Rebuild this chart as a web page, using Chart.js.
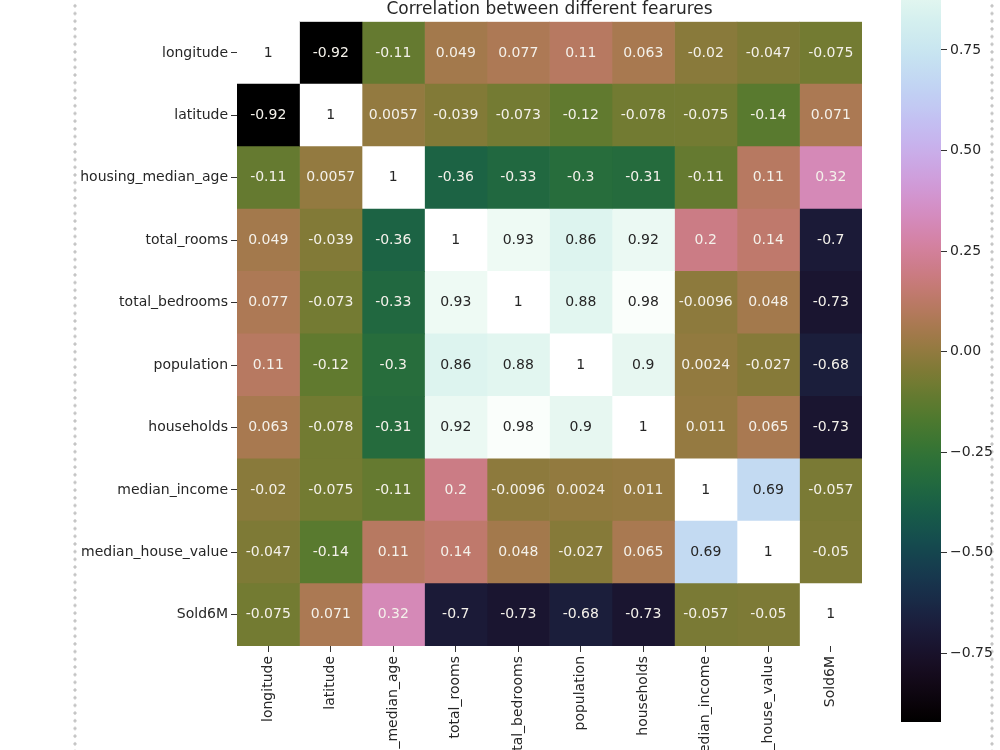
<!DOCTYPE html>
<html>
<head>
<meta charset="utf-8">
<script src="https://cdn.jsdelivr.net/npm/chart.js@4.4.1/dist/chart.umd.min.js"></script>
<style>
  html, body { margin: 0; padding: 0; background: #fff; }
  #wrap { position: relative; width: 1000px; height: 750px; overflow: hidden; }
  #heat { position: absolute; left: 0; top: 0; }
  #cbar { position: absolute; left: 860px; top: -62px; }
  .dots {
    position: absolute; top: 0; width: 4px; height: 750px;
    background: radial-gradient(circle, #c4c4c4 1.3px, rgba(255,255,255,0) 1.9px) 0 2px / 4px 7.7px repeat-y;
  }
</style>
</head>
<body>
<div id="wrap">
  <div class="dots" style="left:73px"></div>
  <div class="dots" style="left:990px"></div>
  <canvas id="heat" width="1000" height="750"></canvas>
  <canvas id="cbar" width="140" height="800"></canvas>
</div>
<script>
// feature names (rows top->bottom, columns left->right)
const features = ['longitude', 'latitude', 'housing_median_age', 'total_rooms', 'total_bedrooms',
  'population', 'households', 'median_income', 'median_house_value', 'Sold6M'];

// correlation rows
const longitude        = [1, -0.92, -0.11, 0.049, 0.077, 0.11, 0.063, -0.02, -0.047, -0.075];
const latitude         = [-0.92, 1, 0.0057, -0.039, -0.073, -0.12, -0.078, -0.075, -0.14, 0.071];
const housingMedianAge = [-0.11, 0.0057, 1, -0.36, -0.33, -0.3, -0.31, -0.11, 0.11, 0.32];
const totalRooms       = [0.049, -0.039, -0.36, 1, 0.93, 0.86, 0.92, 0.2, 0.14, -0.7];
const totalBedrooms    = [0.077, -0.073, -0.33, 0.93, 1, 0.88, 0.98, -0.0096, 0.048, -0.73];
const population       = [0.11, -0.12, -0.3, 0.86, 0.88, 1, 0.9, 0.0024, -0.027, -0.68];
const households       = [0.063, -0.078, -0.31, 0.92, 0.98, 0.9, 1, 0.011, 0.065, -0.73];
const medianIncome     = [-0.02, -0.075, -0.11, 0.2, -0.0096, 0.0024, 0.011, 1, 0.69, -0.057];
const medianHouseValue = [-0.047, -0.14, 0.11, 0.14, 0.048, -0.027, 0.065, 0.69, 1, -0.05];
const sold6M           = [-0.075, 0.071, 0.32, -0.7, -0.73, -0.68, -0.73, -0.057, -0.05, 1];
const corr = [longitude, latitude, housingMedianAge, totalRooms, totalBedrooms,
  population, households, medianIncome, medianHouseValue, sold6M];

// colorbar tick labels
const cbTicks = [-0.75, -0.5, -0.25, 0, 0.25, 0.5, 0.75];

const vmin = -0.921, vmax = 1;
const FONT = 'DejaVu Sans';
const TXT = '#262626';
const FS = 14;

// matplotlib 'cubehelix' colormap
function helix(x) {
  const phi = 2 * Math.PI * (0.5 / 3 - 1.5 * x);
  const a = x * (1 - x) / 2;
  const c = Math.cos(phi), s = Math.sin(phi);
  const clip = v => Math.max(0, Math.min(1, v));
  return [
    clip(x + a * (-0.14861 * c + 1.78277 * s)),
    clip(x + a * (-0.29227 * c - 0.90649 * s)),
    clip(x + a * (1.97294 * c))
  ];
}
const rgbStr = c => 'rgb(' + c.map(v => Math.round(v * 255)).join(',') + ')';
const norm = v => Math.max(0, Math.min(1, (v - vmin) / (vmax - vmin)));
function lum(c) {
  const l = c.map(v => v <= 0.03928 ? v / 12.92 : Math.pow((v + 0.055) / 1.055, 2.4));
  return 0.2126 * l[0] + 0.7152 * l[1] + 0.0722 * l[2];
}
const fmt = v => String(Number(v.toPrecision(2)));

// writes the value in each cell
const annotate = {
  id: 'annotate',
  afterDatasetsDraw(chart) {
    const c = chart.ctx;
    c.save();
    c.font = FS + 'px "' + FONT + '"';
    c.textAlign = 'center';
    c.textBaseline = 'middle';
    chart.data.datasets.forEach((ds, j) => {
      chart.getDatasetMeta(j).data.forEach((bar, i) => {
        const v = corr[i][j];
        const p = bar.getCenterPoint();
        c.fillStyle = lum(helix(norm(v))) > 0.408 ? TXT : '#f4f1ea';
        c.fillText(fmt(v), p.x, p.y);
      });
    });
    c.restore();
  }
};

new Chart(document.getElementById('heat'), {
  type: 'bar',
  data: {
    labels: features,
    datasets: features.map((f, j) => ({
      label: f,
      data: features.map(() => 1),
      backgroundColor: corr.map(row => rgbStr(helix(norm(row[j])))),
      borderWidth: 0,
      barPercentage: 1,
      categoryPercentage: 1
    }))
  },
  options: {
    indexAxis: 'y',
    responsive: false,
    animation: false,
    events: [],
    layout: { padding: { left: 0, right: 138, top: 0, bottom: 0 } },
    plugins: {
      legend: { display: false },
      tooltip: { enabled: false },
      title: {
        display: true,
        text: 'Correlation between different fearures',
        fullSize: false,
        color: TXT,
        font: { family: FONT, size: 17, weight: 'normal', lineHeight: 1.1 },
        padding: { top: 0, bottom: 3 }
      }
    },
    scales: {
      x: {
        type: 'linear',
        stacked: true,
        min: 0,
        max: features.length,
        afterBuildTicks: s => { s.ticks = features.map((f, i) => ({ value: i + 0.5 })); },
        afterFit: s => { s.height = 104; },
        ticks: {
          autoSkip: false,
          minRotation: 90,
          maxRotation: 90,
          padding: 4,
          color: TXT,
          font: { family: FONT, size: FS },
          callback: (v, i) => features[i]
        },
        grid: { drawOnChartArea: false, drawTicks: true, tickLength: 6, tickColor: '#333' },
        border: { display: false }
      },
      y: {
        stacked: true,
        afterFit: s => { s.width = 237; },
        ticks: {
          autoSkip: false,
          padding: 3,
          color: TXT,
          font: { family: FONT, size: FS }
        },
        grid: { offset: false, drawOnChartArea: false, drawTicks: true, tickLength: 6, tickColor: '#333' },
        border: { display: false }
      }
    }
  },
  plugins: [annotate]
});

// colorbar
new Chart(document.getElementById('cbar'), {
  type: 'bar',
  data: {
    labels: [''],
    datasets: [{
      data: [[vmin, vmax]],
      borderWidth: 0,
      barPercentage: 1,
      categoryPercentage: 1,
      backgroundColor: ctx => {
        const area = ctx.chart.chartArea;
        if (!area) return null;
        const g = ctx.chart.ctx.createLinearGradient(0, area.bottom, 0, area.top);
        for (let k = 0; k <= 64; k++) g.addColorStop(k / 64, rgbStr(helix(k / 64)));
        return g;
      }
    }]
  },
  options: {
    responsive: false,
    animation: false,
    events: [],
    layout: { padding: { left: 41, right: 0, top: 10, bottom: 16 } },
    plugins: { legend: { display: false }, tooltip: { enabled: false } },
    scales: {
      x: { display: false },
      y: {
        position: 'right',
        min: vmin,
        max: vmax,
        afterBuildTicks: s => { s.ticks = cbTicks.map(v => ({ value: v })); },
        afterFit: s => { s.width = 59; },
        ticks: {
          padding: 3,
          color: TXT,
          font: { family: FONT, size: FS },
          callback: v => v.toFixed(2).replace('-', '\u2212')
        },
        grid: { drawOnChartArea: false, drawTicks: true, tickLength: 6, tickColor: '#333' },
        border: { display: false }
      }
    }
  }
});
</script>
</body>
</html>
